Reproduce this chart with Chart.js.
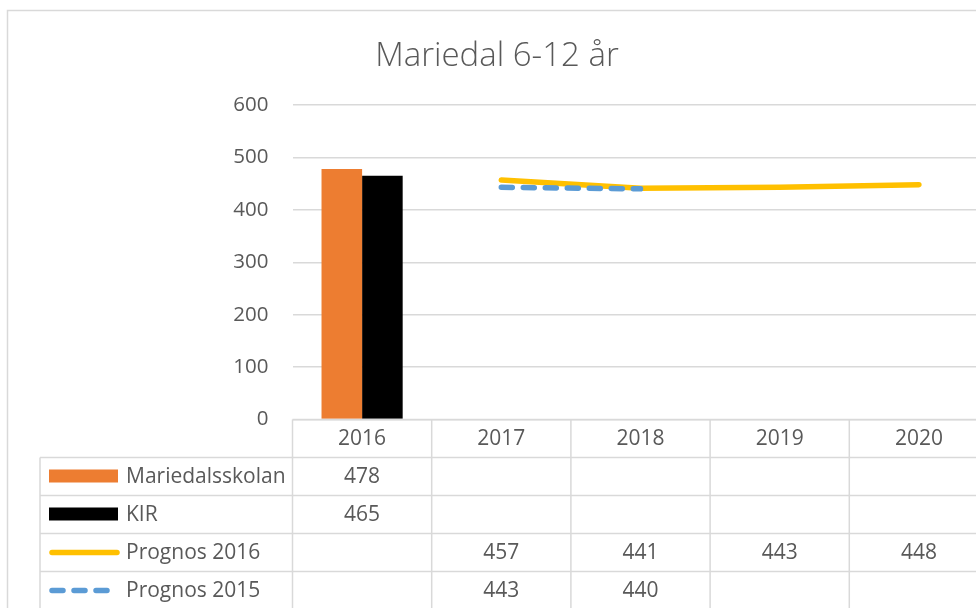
<!DOCTYPE html>
<html>
<head>
<meta charset="utf-8">
<title>Mariedal 6-12 år</title>
<script src="https://cdn.jsdelivr.net/npm/chart.js@4.4.1/dist/chart.umd.min.js"></script>
<style>
  html, body { margin: 0; padding: 0; background: #fff; overflow: hidden; }
  #wrap { position: relative; width: 976px; height: 608px; overflow: hidden; }
  canvas { position: absolute; left: 0; top: 0; }
</style>
</head>
<body>
<div id="wrap">
  <canvas id="chart" width="994" height="620"></canvas>
</div>
<script>
// ================================
// Data
// ================================
const chartTitle = 'Mariedal 6-12 år';
const years = ['2016', '2017', '2018', '2019', '2020'];
const mariedalsskolan = [478, null, null, null, null];
const kir = [465, null, null, null, null];
const prognos2016 = [null, 457, 441, 443, 448];
const prognos2015 = [null, 443, 440, null, null];
const yMax = 600;
const yStep = 100;

const textColor = '#595959';
const lineColor = '#d9d9d9';
const font = '"Open Sans", "Noto Sans", sans-serif';

// ================================
// Title, border and data table under the plot
// ================================
const tablePlugin = {
  id: 'dataTable',
  afterDraw(chart) {
    const ctx = chart.ctx;
    const area = chart.chartArea;
    const x = chart.scales.x;
    const colW = (area.right - area.left) / years.length;
    const rowH = 38;
    const top = area.bottom;
    const labelLeft = 40;
    const nRows = chart.data.datasets.length;

    ctx.save();

    // outer chart border
    ctx.strokeStyle = lineColor;
    ctx.lineWidth = 1.5;
    ctx.beginPath();
    ctx.moveTo(7.5, chart.height);
    ctx.lineTo(7.5, 10.5);
    ctx.lineTo(chart.width, 10.5);
    ctx.stroke();

    // title
    ctx.fillStyle = textColor;
    ctx.font = '300 33px ' + font;
    ctx.textAlign = 'center';
    ctx.textBaseline = 'alphabetic';
    ctx.fillText(chartTitle, 497, 66);

    // table grid
    ctx.beginPath();
    ctx.moveTo(area.left, top);
    ctx.lineTo(area.right, top);
    for (let r = 1; r <= nRows + 1; r++) {
      ctx.moveTo(labelLeft, top + r * rowH);
      ctx.lineTo(area.right, top + r * rowH);
    }
    ctx.moveTo(labelLeft, top + rowH);
    ctx.lineTo(labelLeft, top + (nRows + 1) * rowH);
    for (let c = 0; c <= years.length; c++) {
      const cx = area.left + c * colW;
      ctx.moveTo(cx, top);
      ctx.lineTo(cx, top + (nRows + 1) * rowH);
    }
    ctx.stroke();

    // header years
    ctx.font = '21px ' + font;
    ctx.textBaseline = 'middle';
    ctx.textAlign = 'center';
    years.forEach((y, i) => {
      ctx.fillText(y, x.getPixelForValue(i), top + rowH / 2 + 1);
    });

    // rows: legend key, name, values
    chart.data.datasets.forEach((ds, r) => {
      const cy = top + rowH * (r + 1) + rowH / 2;
      if (ds.type === 'line') {
        ctx.strokeStyle = ds.borderColor;
        ctx.lineWidth = ds.borderWidth;
        ctx.lineCap = 'round';
        ctx.setLineDash(ds.borderDash || []);
        ctx.beginPath();
        ctx.moveTo(52, cy);
        ctx.lineTo(ds.borderDash ? 113 : 117, cy);
        ctx.stroke();
        ctx.setLineDash([]);
      } else {
        ctx.fillStyle = ds.backgroundColor;
        ctx.fillRect(49, cy - 7, 69, 13);
      }
      ctx.fillStyle = textColor;
      ctx.textAlign = 'left';
      ctx.fillText(ds.label, 126, cy + 1);
      ctx.textAlign = 'center';
      ds.data.forEach((v, i) => {
        if (v !== null) ctx.fillText(String(v), x.getPixelForValue(i), cy + 1);
      });
    });

    ctx.restore();
  }
};

const ctx = document.getElementById('chart').getContext('2d');

new Chart(ctx, {
  type: 'bar',
  data: {
    labels: years,
    datasets: [
      {
        label: 'Mariedalsskolan',
        data: mariedalsskolan,
        backgroundColor: '#ED7D31',
        categoryPercentage: 0.583,
        barPercentage: 1,
        order: 3
      },
      {
        label: 'KIR',
        data: kir,
        backgroundColor: '#000000',
        categoryPercentage: 0.583,
        barPercentage: 1,
        order: 4
      },
      {
        type: 'line',
        label: 'Prognos 2016',
        data: prognos2016,
        borderColor: '#FFC000',
        backgroundColor: '#FFC000',
        borderWidth: 5.5,
        borderCapStyle: 'round',
        borderJoinStyle: 'round',
        pointRadius: 0,
        fill: false,
        order: 1
      },
      {
        type: 'line',
        label: 'Prognos 2015',
        data: prognos2015,
        borderColor: '#5B9BD5',
        backgroundColor: '#5B9BD5',
        borderWidth: 5.5,
        borderDash: [11, 11],
        borderCapStyle: 'round',
        borderJoinStyle: 'round',
        pointRadius: 0,
        fill: false,
        order: 0
      }
    ]
  },
  options: {
    responsive: false,
    animation: false,
    layout: {
      padding: { left: 0, top: 105, right: 5.5, bottom: 200.5 }
    },
    plugins: {
      legend: { display: false },
      title: { display: false },
      tooltip: { enabled: false }
    },
    scales: {
      x: {
        display: false
      },
      y: {
        min: 0,
        max: yMax,
        afterFit: (scale) => { scale.width = 292.5; },
        border: { display: false },
        grid: {
          color: lineColor,
          lineWidth: 1.5,
          drawTicks: false
        },
        ticks: {
          stepSize: yStep,
          padding: 24,
          color: textColor,
          font: { family: font, size: 20.5 }
        }
      }
    }
  },
  plugins: [tablePlugin]
});
</script>
</body>
</html>
